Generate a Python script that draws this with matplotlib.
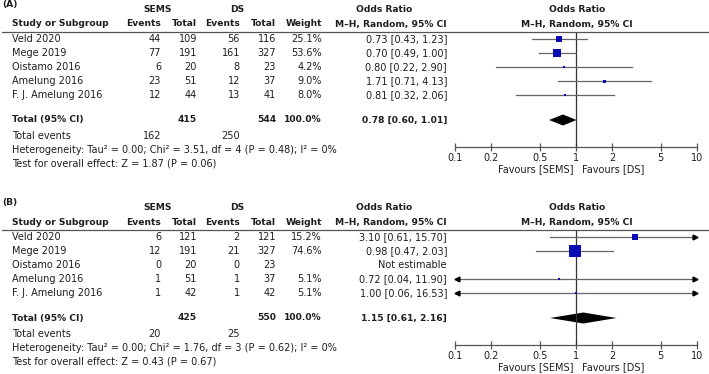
import numpy as np
import matplotlib
matplotlib.use('Agg')
import matplotlib.pyplot as plt
from matplotlib.lines import Line2D

W, H = 709, 374
plt.rcParams['font.family'] = ['DejaVu Sans']

studies = ["Veld 2020", "Mege 2019", "Oistamo 2016", "Amelung 2016", "F. J. Amelung 2016"]

# panel A
sems_events_a = [44, 77, 6, 23, 12]
sems_total_a = [109, 191, 20, 51, 44]
ds_events_a = [56, 161, 8, 12, 13]
ds_total_a = [116, 327, 23, 37, 41]
weight_a = [25.1, 53.6, 4.2, 9.0, 8.0]
or_a = [0.73, 0.70, 0.80, 1.71, 0.81]
lo_a = [0.43, 0.49, 0.22, 0.71, 0.32]
hi_a = [1.23, 1.00, 2.90, 4.13, 2.06]
total_a = dict(sems_n=415, ds_n=544, sems_ev=162, ds_ev=250, est=0.78, lo=0.60, hi=1.01,
               chi=3.51, df=4, p_het=0.48, z=1.87, p=0.06)

# panel B
sems_events_b = [6, 12, 0, 1, 1]
sems_total_b = [121, 191, 20, 51, 42]
ds_events_b = [2, 21, 0, 1, 1]
ds_total_b = [121, 327, 23, 37, 42]
weight_b = [15.2, 74.6, None, 5.1, 5.1]
or_b = [3.10, 0.98, None, 0.72, 1.00]
lo_b = [0.61, 0.47, None, 0.04, 0.06]
hi_b = [15.70, 2.03, None, 11.90, 16.53]
total_b = dict(sems_n=425, ds_n=550, sems_ev=20, ds_ev=25, est=1.15, lo=0.61, hi=2.16,
               chi=1.76, df=3, p_het=0.62, z=0.43, p=0.67)

ticks = [0.1, 0.2, 0.5, 1, 2, 5, 10]

fig = plt.figure(figsize=(W / 100, H / 100), dpi=100)
FS = 7.0   # regular text
FSB = 6.6  # bold text


def txt(x, y, s, ha='left', bold=False):
    fig.text(x / W, 1 - y / H, s, ha=ha, va='center',
             fontsize=FSB if bold else FS,
             fontweight='bold' if bold else 'normal', color='#1e1e1e')


def panel(dy, label, se, st, de, dt, wt, est, lo, hi, tot, k):
    row_y = [39 + dy + 14 * i for i in range(len(studies))]
    tot_y = 120 + dy
    txt(2, 5 + dy, label, bold=True)
    txt(158, 10 + dy, "SEMS", ha='center', bold=True)
    txt(237, 10 + dy, "DS", ha='center', bold=True)
    txt(384, 10 + dy, "Odds Ratio", ha='center', bold=True)
    txt(577, 10 + dy, "Odds Ratio", ha='center', bold=True)
    txt(12, 24 + dy, "Study or Subgroup", bold=True)
    txt(161, 24 + dy, "Events", ha='right', bold=True)
    txt(197, 24 + dy, "Total", ha='right', bold=True)
    txt(240, 24 + dy, "Events", ha='right', bold=True)
    txt(276, 24 + dy, "Total", ha='right', bold=True)
    txt(322, 24 + dy, "Weight", ha='right', bold=True)
    txt(447, 24 + dy, "M\u2013H, Random, 95% CI", ha='right', bold=True)
    txt(577, 24 + dy, "M\u2013H, Random, 95% CI", ha='center', bold=True)
    fig.add_artist(Line2D([2 / W, 1], [1 - (32 + dy) / H] * 2, color='#555555', lw=0.9))

    for i, y in enumerate(row_y):
        txt(12, y, studies[i])
        txt(161, y, str(se[i]), ha='right')
        txt(197, y, str(st[i]), ha='right')
        txt(240, y, str(de[i]), ha='right')
        txt(276, y, str(dt[i]), ha='right')
        if wt[i] is None:
            txt(447, y, "Not estimable", ha='right')
        else:
            txt(322, y, f"{wt[i]:.1f}%", ha='right')
            txt(447, y, f"{est[i]:.2f} [{lo[i]:.2f}, {hi[i]:.2f}]", ha='right')

    txt(12, tot_y, "Total (95% CI)", bold=True)
    txt(197, tot_y, str(tot['sems_n']), ha='right', bold=True)
    txt(276, tot_y, str(tot['ds_n']), ha='right', bold=True)
    txt(322, tot_y, "100.0%", ha='right', bold=True)
    txt(447, tot_y, f"{tot['est']:.2f} [{tot['lo']:.2f}, {tot['hi']:.2f}]", ha='right', bold=True)
    txt(12, 136 + dy, "Total events")
    txt(161, 136 + dy, str(tot['sems_ev']), ha='right')
    txt(240, 136 + dy, str(tot['ds_ev']), ha='right')
    txt(12, 150 + dy, f"Heterogeneity: Tau\u00b2 = 0.00; Chi\u00b2 = {tot['chi']:.2f}, df = {tot['df']} "
                      f"(P = {tot['p_het']:.2f}); I\u00b2 = 0%")
    txt(12, 164 + dy, f"Test for overall effect: Z = {tot['z']:.2f} (P = {tot['p']:.2f})")

    # forest axes: x 455..697 px, y from header line to axis line
    top, bot = 32 + dy, 147 + dy
    ax = fig.add_axes([455 / W, 1 - bot / H, (697 - 455) / W, (bot - top) / H])
    ax.patch.set_alpha(0)
    ax.set_xscale('log')
    ax.set_xlim(0.1, 10)
    ax.set_ylim(bot, top)
    for s in ['top', 'left', 'right']:
        ax.spines[s].set_visible(False)
    ax.spines['bottom'].set_color('#555555')
    ax.spines['bottom'].set_linewidth(0.9)
    ax.set_yticks([])
    ax.set_xticks(ticks)
    ax.set_xticklabels([f"{t:g}" for t in ticks])
    ax.minorticks_off()
    ax.tick_params(axis='x', direction='inout', length=6, width=0.9, color='#555555',
                   labelsize=FS, labelcolor='#1e1e1e', pad=1)
    ax.axvline(1, color='#333333', lw=0.9)

    for i, y in enumerate(row_y):
        if est[i] is None:
            continue
        a, b = max(lo[i], 0.1), min(hi[i], 10)
        ax.plot([a, b], [y, y], color='#666666', lw=0.9, clip_on=False)
        if hi[i] > 10:
            ax.plot(9.7, y, marker='>', ms=3.5, color='black', clip_on=False)
        if lo[i] < 0.1:
            ax.plot(0.103, y, marker='<', ms=3.5, color='black', clip_on=False)
        side = max(2.0, k * np.sqrt(wt[i]))
        ax.plot(est[i], y, marker='s', ms=side * 0.72, color='#0b0bb5', mew=0, clip_on=False)

    # pooled diamond
    hh = 5.5
    ax.fill([tot['lo'], tot['est'], tot['hi'], tot['est']],
            [tot_y, tot_y - hh, tot_y, tot_y + hh], color='black', lw=0)

    txt(573, 169 + dy, "Favours [SEMS]", ha='right')
    txt(582, 169 + dy, "Favours [DS]", ha='left')


panel(0, "(A)", sems_events_a, sems_total_a, ds_events_a, ds_total_a, weight_a,
      or_a, lo_a, hi_a, total_a, 1.0)
panel(198, "(B)", sems_events_b, sems_total_b, ds_events_b, ds_total_b, weight_b,
      or_b, lo_b, hi_b, total_b, 1.3)

fig.savefig('out.png', dpi=100)
